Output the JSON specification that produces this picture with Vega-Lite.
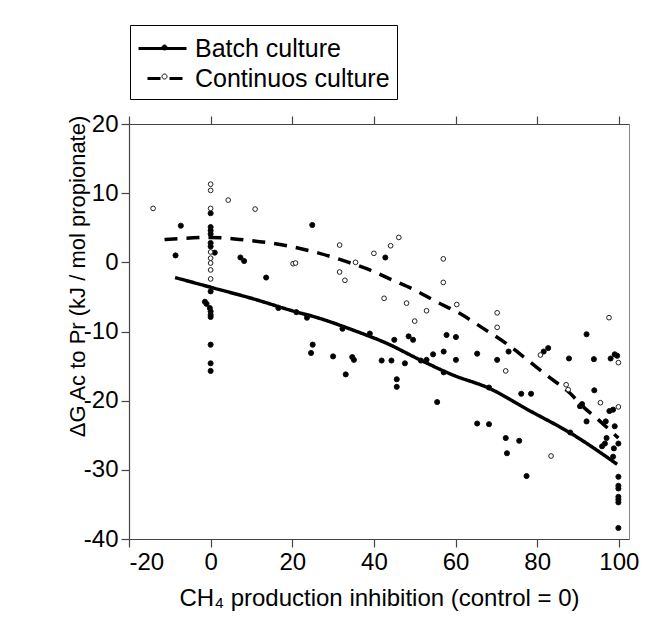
{
  "$schema": "https://vega.github.io/schema/vega-lite/v6.json",
  "width": 500,
  "height": 415,
  "autosize": {"type": "none"},
  "padding": {"left": 129, "top": 124, "right": 38, "bottom": 80},
  "background": "white",
  "config": {
    "view": {"stroke": "#888", "strokeWidth": 1},
    "font": "Liberation Sans",
    "axis": {"domainColor": "#444", "tickColor": "#444", "tickSize": 8, "labelFontSize": 24, "labelColor": "black", "labelFont": "Liberation Sans", "titleFont": "Liberation Sans", "titleFontSize": 24, "titleFontWeight": "normal", "titleColor": "black", "grid": false, "labelPadding": 3, "domainWidth": 1.2, "tickWidth": 1.2, "labelExpr": "replace(datum.label, '−', '-')"}
  },
  "datasets": {
    "curves": [
      {"curve": "Batch culture", "x": -8.7, "y": -2.2},
      {"curve": "Batch culture", "x": 0, "y": -3.6},
      {"curve": "Batch culture", "x": 10, "y": -5.2},
      {"curve": "Batch culture", "x": 20, "y": -7.0},
      {"curve": "Batch culture", "x": 26.7, "y": -8.1},
      {"curve": "Batch culture", "x": 34.9, "y": -9.8},
      {"curve": "Batch culture", "x": 43.1, "y": -11.7},
      {"curve": "Batch culture", "x": 51.3, "y": -14.1},
      {"curve": "Batch culture", "x": 59.4, "y": -16.3},
      {"curve": "Batch culture", "x": 68.2, "y": -18.2},
      {"curve": "Batch culture", "x": 78, "y": -21.4},
      {"curve": "Batch culture", "x": 88.2, "y": -24.7},
      {"curve": "Batch culture", "x": 99.6, "y": -29.2},
      {"curve": "Continuos culture", "x": -11.3, "y": 3.3},
      {"curve": "Continuos culture", "x": 0, "y": 3.6},
      {"curve": "Continuos culture", "x": 7.1, "y": 3.3},
      {"curve": "Continuos culture", "x": 17.7, "y": 2.5},
      {"curve": "Continuos culture", "x": 26.7, "y": 1.3},
      {"curve": "Continuos culture", "x": 33.3, "y": 0.1},
      {"curve": "Continuos culture", "x": 39, "y": -1.1},
      {"curve": "Continuos culture", "x": 44.7, "y": -2.6},
      {"curve": "Continuos culture", "x": 50, "y": -4.0},
      {"curve": "Continuos culture", "x": 55.3, "y": -5.7},
      {"curve": "Continuos culture", "x": 61.1, "y": -7.4},
      {"curve": "Continuos culture", "x": 66.4, "y": -9.4},
      {"curve": "Continuos culture", "x": 72.1, "y": -11.6},
      {"curve": "Continuos culture", "x": 77.4, "y": -14.0},
      {"curve": "Continuos culture", "x": 82.7, "y": -16.5},
      {"curve": "Continuos culture", "x": 88, "y": -18.9},
      {"curve": "Continuos culture", "x": 91.3, "y": -20.9},
      {"curve": "Continuos culture", "x": 94.1, "y": -22.3},
      {"curve": "Continuos culture", "x": 99.9, "y": -25.4}
    ],
    "points": [
      {"series": "Batch culture", "x": -8.6, "y": 1.0},
      {"series": "Batch culture", "x": -7.3, "y": 5.3},
      {"series": "Batch culture", "x": 0, "y": 7.1},
      {"series": "Batch culture", "x": 0, "y": 5.1},
      {"series": "Batch culture", "x": 0, "y": 4.6},
      {"series": "Batch culture", "x": 0, "y": 4.1},
      {"series": "Batch culture", "x": 0, "y": 2.8},
      {"series": "Batch culture", "x": 0, "y": 2.3},
      {"series": "Batch culture", "x": 1.0, "y": 1.4},
      {"series": "Batch culture", "x": 0, "y": -4.2},
      {"series": "Batch culture", "x": -1.4, "y": -5.7},
      {"series": "Batch culture", "x": -1.0, "y": -6.0},
      {"series": "Batch culture", "x": -0.2, "y": -6.6},
      {"series": "Batch culture", "x": 0, "y": -7.1},
      {"series": "Batch culture", "x": 0, "y": -7.6},
      {"series": "Batch culture", "x": 0, "y": -7.9},
      {"series": "Batch culture", "x": 0, "y": -11.9},
      {"series": "Batch culture", "x": 0, "y": -14.6},
      {"series": "Batch culture", "x": 0, "y": -15.7},
      {"series": "Batch culture", "x": 7.3, "y": 0.7},
      {"series": "Batch culture", "x": 8.2, "y": 0.2},
      {"series": "Batch culture", "x": 13.6, "y": -2.2},
      {"series": "Batch culture", "x": 16.6, "y": -6.6},
      {"series": "Batch culture", "x": 21.0, "y": -7.2},
      {"series": "Batch culture", "x": 23.6, "y": -8.0},
      {"series": "Batch culture", "x": 24.9, "y": 5.4},
      {"series": "Batch culture", "x": 25.0, "y": -11.9},
      {"series": "Batch culture", "x": 24.6, "y": -13.1},
      {"series": "Batch culture", "x": 30.0, "y": -13.6},
      {"series": "Batch culture", "x": 32.3, "y": -9.6},
      {"series": "Batch culture", "x": 33.1, "y": -16.2},
      {"series": "Batch culture", "x": 34.7, "y": -13.7},
      {"series": "Batch culture", "x": 35.1, "y": -14.1},
      {"series": "Batch culture", "x": 39.0, "y": -10.3},
      {"series": "Batch culture", "x": 41.9, "y": -14.2},
      {"series": "Batch culture", "x": 42.8, "y": 0.7},
      {"series": "Batch culture", "x": 44.3, "y": -14.2},
      {"series": "Batch culture", "x": 45.0, "y": -11.2},
      {"series": "Batch culture", "x": 45.6, "y": -16.9},
      {"series": "Batch culture", "x": 45.6, "y": -18.0},
      {"series": "Batch culture", "x": 47.6, "y": -14.6},
      {"series": "Batch culture", "x": 48.5, "y": -10.7},
      {"series": "Batch culture", "x": 49.6, "y": -11.2},
      {"series": "Batch culture", "x": 51.5, "y": -14.2},
      {"series": "Batch culture", "x": 52.9, "y": -14.1},
      {"series": "Batch culture", "x": 54.5, "y": -13.3},
      {"series": "Batch culture", "x": 55.5, "y": -20.2},
      {"series": "Batch culture", "x": 57.1, "y": -12.9},
      {"series": "Batch culture", "x": 57.1, "y": -15.9},
      {"series": "Batch culture", "x": 57.8, "y": -10.5},
      {"series": "Batch culture", "x": 60.1, "y": -10.8},
      {"series": "Batch culture", "x": 60.1, "y": -14.1},
      {"series": "Batch culture", "x": 65.3, "y": -13.2},
      {"series": "Batch culture", "x": 65.3, "y": -23.3},
      {"series": "Batch culture", "x": 68.2, "y": -18.1},
      {"series": "Batch culture", "x": 68.2, "y": -23.4},
      {"series": "Batch culture", "x": 70.2, "y": -14.1},
      {"series": "Batch culture", "x": 72.3, "y": -25.4},
      {"series": "Batch culture", "x": 72.6, "y": -27.6},
      {"series": "Batch culture", "x": 73.0, "y": -12.9},
      {"series": "Batch culture", "x": 75.6, "y": -25.8},
      {"series": "Batch culture", "x": 76.1, "y": -19.0},
      {"series": "Batch culture", "x": 77.4, "y": -30.9},
      {"series": "Batch culture", "x": 78.5, "y": -19.0},
      {"series": "Batch culture", "x": 81.6, "y": -12.9},
      {"series": "Batch culture", "x": 82.7, "y": -12.4},
      {"series": "Batch culture", "x": 87.8, "y": -13.9},
      {"series": "Batch culture", "x": 88.1, "y": -24.6},
      {"series": "Batch culture", "x": 90.5, "y": -20.8},
      {"series": "Batch culture", "x": 91.0, "y": -20.5},
      {"series": "Batch culture", "x": 92.1, "y": -10.4},
      {"series": "Batch culture", "x": 92.1, "y": -23.0},
      {"series": "Batch culture", "x": 93.9, "y": -14.0},
      {"series": "Batch culture", "x": 94.0, "y": -18.5},
      {"series": "Batch culture", "x": 96.8, "y": -23.0},
      {"series": "Batch culture", "x": 97.0, "y": -25.4},
      {"series": "Batch culture", "x": 96.6, "y": -26.2},
      {"series": "Batch culture", "x": 95.9, "y": -26.6},
      {"series": "Batch culture", "x": 98.0, "y": -13.9},
      {"series": "Batch culture", "x": 97.7, "y": -21.5},
      {"series": "Batch culture", "x": 98.6, "y": -21.3},
      {"series": "Batch culture", "x": 99.0, "y": -13.3},
      {"series": "Batch culture", "x": 99.6, "y": -13.5},
      {"series": "Batch culture", "x": 99.0, "y": -23.7},
      {"series": "Batch culture", "x": 98.8, "y": -26.9},
      {"series": "Batch culture", "x": 98.6, "y": -28.1},
      {"series": "Batch culture", "x": 99.9, "y": -26.2},
      {"series": "Batch culture", "x": 99.9, "y": -31.0},
      {"series": "Batch culture", "x": 99.9, "y": -32.3},
      {"series": "Batch culture", "x": 99.9, "y": -32.7},
      {"series": "Batch culture", "x": 99.9, "y": -33.9},
      {"series": "Batch culture", "x": 99.9, "y": -34.3},
      {"series": "Batch culture", "x": 99.9, "y": -34.7},
      {"series": "Batch culture", "x": 99.9, "y": -38.4},
      {"series": "Continuos culture", "x": -14.1, "y": 7.8},
      {"series": "Continuos culture", "x": 0, "y": 11.3},
      {"series": "Continuos culture", "x": 0, "y": 10.4},
      {"series": "Continuos culture", "x": 0, "y": 7.8},
      {"series": "Continuos culture", "x": 4.3, "y": 9.0},
      {"series": "Continuos culture", "x": 10.9, "y": 7.7},
      {"series": "Continuos culture", "x": 0, "y": 1.5},
      {"series": "Continuos culture", "x": 0, "y": 0.6},
      {"series": "Continuos culture", "x": 0, "y": -0.1},
      {"series": "Continuos culture", "x": 0, "y": -1.1},
      {"series": "Continuos culture", "x": 0, "y": -2.4},
      {"series": "Continuos culture", "x": 20.2, "y": -0.2},
      {"series": "Continuos culture", "x": 20.8, "y": -0.1},
      {"series": "Continuos culture", "x": 31.6, "y": 2.5},
      {"series": "Continuos culture", "x": 31.6, "y": -1.4},
      {"series": "Continuos culture", "x": 32.9, "y": -2.6},
      {"series": "Continuos culture", "x": 35.5, "y": 0.0},
      {"series": "Continuos culture", "x": 40.0, "y": 1.3},
      {"series": "Continuos culture", "x": 42.5, "y": -5.2},
      {"series": "Continuos culture", "x": 44.1, "y": 2.4},
      {"series": "Continuos culture", "x": 46.1, "y": 3.6},
      {"series": "Continuos culture", "x": 48.0, "y": -5.9},
      {"series": "Continuos culture", "x": 50.0, "y": -8.5},
      {"series": "Continuos culture", "x": 52.9, "y": -7.0},
      {"series": "Continuos culture", "x": 57.0, "y": 0.5},
      {"series": "Continuos culture", "x": 57.0, "y": -2.9},
      {"series": "Continuos culture", "x": 60.3, "y": -6.1},
      {"series": "Continuos culture", "x": 70.2, "y": -7.3},
      {"series": "Continuos culture", "x": 70.2, "y": -9.4},
      {"series": "Continuos culture", "x": 72.3, "y": -15.7},
      {"series": "Continuos culture", "x": 80.8, "y": -13.4},
      {"series": "Continuos culture", "x": 83.4, "y": -28.0},
      {"series": "Continuos culture", "x": 87.1, "y": -17.7},
      {"series": "Continuos culture", "x": 87.6, "y": -18.4},
      {"series": "Continuos culture", "x": 95.5, "y": -20.3},
      {"series": "Continuos culture", "x": 97.6, "y": -8.0},
      {"series": "Continuos culture", "x": 99.9, "y": -14.5},
      {"series": "Continuos culture", "x": 99.9, "y": -20.9}
    ]
  },
  "layer": [
    {
      "data": {"name": "curves"},
      "mark": {"type": "line", "color": "black", "strokeWidth": 3.5, "interpolate": "monotone"},
      "encoding": {
        "x": {"field": "x", "type": "quantitative", "scale": {"domain": [-20, 102.5], "nice": false, "zero": false},
              "axis": {"orient": "bottom", "values": [-20, 0, 20, 40, 60, 80, 100], "title": "CH₄ production inhibition (control = 0)", "titlePadding": 12}},
        "y": {"field": "y", "type": "quantitative", "scale": {"domain": [-40, 20], "nice": false, "zero": false},
              "axis": {"values": [-40, -30, -20, -10, 0, 10, 20], "title": "ΔG Ac to Pr (kJ / mol propionate)", "titleFontSize": 22, "titleX": -40, "titleY": 152, "titleBaseline": "bottom", "titleAlign": "center", "titleAngle": -90}},
        "strokeDash": {"field": "curve", "type": "nominal",
          "scale": {"range": [[1, 0], [13, 9]]},
          "legend": {"orient": "none", "legendX": 1, "legendY": -99, "title": null, "strokeColor": "black", "padding": 7, "zindex": 0,
            "labelFont": "Liberation Sans", "labelFontSize": 25, "labelColor": "black", "labelOffset": 25, "labelLimit": 0, "rowPadding": 0,
            "symbolSize": 900, "symbolStrokeWidth": 3, "symbolStrokeColor": "black", "symbolType": "M-1,0H2.2", "symbolDashOffset": 13}
        }
      }
    },
    {
      "data": {"name": "points"},
      "transform": [{"filter": "datum.series === 'Batch culture'"}],
      "mark": {"type": "point", "filled": true, "stroke": "#111", "strokeWidth": 1, "opacity": 1, "size": 26},
      "encoding": {
        "x": {"field": "x", "type": "quantitative", "axis": {"orient": "top", "labels": false, "title": null, "values": [-20, 0, 20, 40, 60, 80, 100]}},
        "y": {"field": "y", "type": "quantitative"},
        "fill": {"field": "series", "type": "nominal",
          "scale": {"domain": ["Batch culture", "Continuos culture"], "range": ["black", "white"]},
          "legend": {"orient": "none", "legendX": 1, "legendY": -99, "title": null, "padding": 7, "zindex": 1,
            "labelFont": "Liberation Sans", "labelFontSize": 25, "labelColor": "black", "labelExpr": "''", "labelOffset": 25, "labelLimit": 0, "rowPadding": 0,
            "symbolSize": 900, "symbolStrokeWidth": 1, "symbolStrokeColor": "black",
            "symbolType": "M0.967,0A0.167,0.167,0,1,1,0.633,0A0.167,0.167,0,1,1,0.967,0Z"}
        }
      }
    },
    {
      "data": {"name": "points"},
      "transform": [{"filter": "datum.series === 'Continuos culture'"}],
      "mark": {"type": "point", "filled": true, "stroke": "#222", "strokeWidth": 1, "opacity": 1, "size": 22},
      "encoding": {
        "x": {"field": "x", "type": "quantitative", "axis": null},
        "y": {"field": "y", "type": "quantitative"},
        "fill": {"field": "series", "type": "nominal"}
      }
    }
  ],
  "resolve": {"axis": {"x": "independent"}}
}
